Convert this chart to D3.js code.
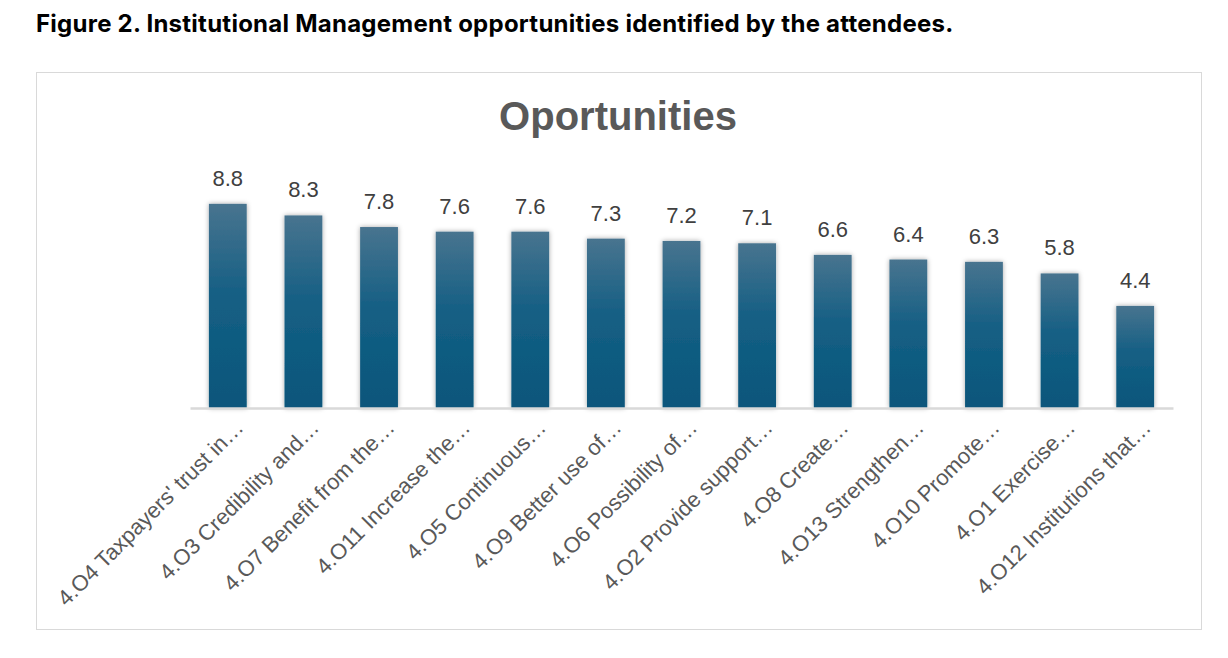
<!DOCTYPE html>
<html>
<head>
<meta charset="utf-8">
<script src="https://cdn.jsdelivr.net/npm/d3@7"></script>
<style>
  body { margin: 0; background: #fff; }
  svg { display: block; }
</style>
</head>
<body>
<script>
// Data
var categories = [
  "4.O4 Taxpayers' trust in…",
  "4.O3 Credibility and…",
  "4.O7 Benefit from the…",
  "4.O11 Increase the…",
  "4.O5 Continuous…",
  "4.O9 Better use of…",
  "4.O6 Possibility of…",
  "4.O2 Provide support…",
  "4.O8 Create…",
  "4.O13 Strengthen…",
  "4.O10 Promote…",
  "4.O1 Exercise…",
  "4.O12 Institutions that…"
];
var values = [8.8, 8.3, 7.8, 7.6, 7.6, 7.3, 7.2, 7.1, 6.6, 6.4, 6.3, 5.8, 4.4];

var W = 1228, H = 658;
var svg = d3.select("body").append("svg").attr("width", W).attr("height", H);

// Gradient + shadow
var defs = svg.append("defs");
var grad = defs.append("linearGradient").attr("id", "barGrad")
  .attr("x1", 0).attr("y1", 0).attr("x2", 0).attr("y2", 1);
grad.append("stop").attr("offset", "0%").attr("stop-color", "#48748f");
grad.append("stop").attr("offset", "45%").attr("stop-color", "#155f84");
grad.append("stop").attr("offset", "100%").attr("stop-color", "#08567b");
var shadow = defs.append("filter").attr("id", "shadow")
  .attr("x", "-30%").attr("y", "-10%").attr("width", "160%").attr("height", "120%");
shadow.append("feDropShadow").attr("dx", 0).attr("dy", 0).attr("stdDeviation", 2.5)
  .attr("flood-color", "#000").attr("flood-opacity", 0.35);

// Caption
svg.append("text")
  .attr("x", 36).attr("y", 32)
  .attr("font-family", "Inter, 'Open Sans', sans-serif")
  .attr("font-weight", 700).attr("font-size", 24)
  .attr("letter-spacing", 0.25)
  .attr("fill", "#000")
  .text("Figure 2. Institutional Management opportunities identified by the attendees.");

// Chart frame
svg.append("rect")
  .attr("x", 36.5).attr("y", 72.5).attr("width", 1165).attr("height", 557)
  .attr("fill", "#fff").attr("stroke", "#d9d9d9").attr("stroke-width", 1);

// Title
svg.append("text")
  .attr("x", 618).attr("y", 130)
  .attr("text-anchor", "middle")
  .attr("font-family", "'Liberation Sans', Arial, sans-serif")
  .attr("font-weight", 700).attr("font-size", 40)
  .attr("fill", "#595959")
  .text("Oportunities");

// Scales
var x = d3.scaleBand().domain(categories).range([190, 1173]).paddingInner(0.5).paddingOuter(0.25);
var y = d3.scaleLinear().domain([0, 10]).range([408, 176]);

// Bars
svg.append("g").selectAll("rect")
  .data(values)
  .join("rect")
  .attr("x", function(d, i){ return x(categories[i]); })
  .attr("y", function(d){ return y(d); })
  .attr("width", x.bandwidth())
  .attr("height", function(d){ return y(0) - y(d); })
  .attr("fill", "url(#barGrad)")
  .attr("filter", "url(#shadow)");

// Value labels
svg.append("g").selectAll("text")
  .data(values)
  .join("text")
  .attr("x", function(d, i){ return x(categories[i]) + x.bandwidth() / 2; })
  .attr("y", function(d){ return y(d) - 18; })
  .attr("text-anchor", "middle")
  .attr("font-family", "'Liberation Sans', Arial, sans-serif")
  .attr("font-size", 22)
  .attr("fill", "#404040")
  .text(function(d){ return d.toFixed(1); });

// Axis line
var axis = svg.append("g").attr("transform", "translate(0," + y(0) + ")")
  .call(d3.axisBottom(x).tickSize(0).tickPadding(0));
axis.select(".domain").attr("stroke", "#d9d9d9").attr("stroke-width", 2.5);
axis.selectAll(".tick text")
  .attr("text-anchor", "end")
  .attr("font-family", "'Liberation Sans', Arial, sans-serif")
  .attr("font-size", 22)
  .attr("fill", "#595959")
  .attr("y", 0)
  .attr("dy", 0)
  .attr("transform", "translate(17,21) rotate(-45)");
</script>
</body>
</html>
